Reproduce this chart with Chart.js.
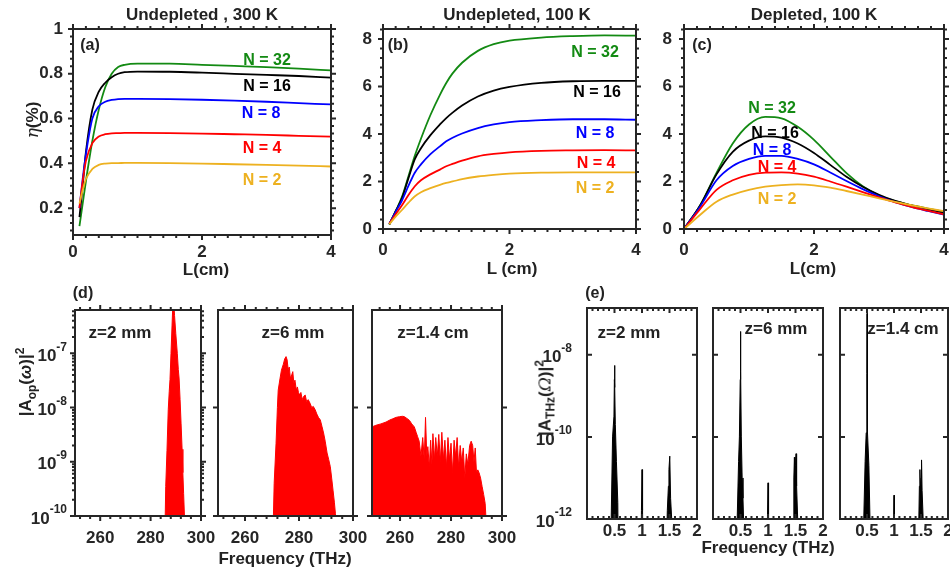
<!DOCTYPE html>
<html><head><meta charset="utf-8">
<script src="https://cdn.jsdelivr.net/npm/chart.js@4/dist/chart.umd.min.js"></script>
<style>
html,body{margin:0;padding:0;background:#fff;width:950px;height:572px;overflow:hidden;position:relative;}
canvas{position:absolute;left:0;top:0;}
.t{position:absolute;transform:translate(-50%,-50%);white-space:nowrap;font-family:"Liberation Sans",Arial,sans-serif;font-weight:bold;color:#222;line-height:1;font-size:17px;}
.r{transform:translate(-50%,-50%) rotate(-90deg);}
.n{font-size:16px;}
.h{font-size:17px;}
sub,sup{font-size:12px;}
</style></head><body>
<script>
// ---------- data ----------
const LA = [0.1,0.15,0.2,0.3,0.4,0.5,0.6,0.7,0.8,1.0,1.5,2.0,2.5,3.0,3.5,4.0];
const a32 = [0.12,0.22,0.32,0.50,0.64,0.74,0.80,0.83,0.84,0.845,0.845,0.84,0.835,0.83,0.823,0.815];
const a16 = [0.16,0.30,0.45,0.64,0.72,0.76,0.785,0.80,0.807,0.81,0.809,0.805,0.80,0.795,0.79,0.783];
const a8  = [0.20,0.33,0.44,0.60,0.655,0.675,0.683,0.687,0.688,0.688,0.687,0.684,0.68,0.675,0.669,0.663];
const a4  = [0.20,0.32,0.41,0.49,0.52,0.53,0.534,0.535,0.536,0.536,0.535,0.533,0.53,0.527,0.523,0.519];
const a2  = [0.22,0.28,0.33,0.375,0.393,0.399,0.401,0.401,0.402,0.402,0.401,0.399,0.396,0.393,0.39,0.386];

const LB = [0.1,0.2,0.3,0.4,0.5,0.6,0.75,0.9,1.0,1.1,1.25,1.5,1.75,2.0,2.5,3.0,3.5,4.0];
const b32 = [0.18,0.75,1.35,2.2,3.06,3.8,4.8,5.65,6.15,6.55,7.0,7.5,7.78,7.93,8.06,8.12,8.15,8.14];
const b16 = [0.2,0.75,1.3,2.12,2.92,3.4,3.95,4.4,4.67,4.9,5.2,5.58,5.83,5.98,6.15,6.22,6.24,6.24];
const b8  = [0.22,0.72,1.2,1.8,2.36,2.72,3.15,3.48,3.69,3.84,4.02,4.25,4.4,4.5,4.58,4.62,4.62,4.6];
const b4  = [0.22,0.62,1.0,1.42,1.79,2.05,2.3,2.5,2.64,2.74,2.88,3.06,3.16,3.23,3.29,3.31,3.32,3.31];
const b2  = [0.2,0.52,0.8,1.1,1.37,1.55,1.72,1.86,1.94,2.0,2.1,2.21,2.28,2.33,2.37,2.38,2.38,2.38];

const LC = [0,0.25,0.5,0.75,1.0,1.25,1.5,1.75,2.0,2.25,2.5,2.75,3.0,3.25,3.5,3.75,4.0];
const c32 = [0,1.0,2.36,3.6,4.4,4.72,4.66,4.3,3.75,3.05,2.35,1.8,1.42,1.17,1.0,0.86,0.72];
const c16 = [0,1.0,2.3,3.25,3.72,3.9,3.85,3.6,3.2,2.7,2.2,1.78,1.44,1.18,0.99,0.83,0.68];
const c8  = [0,0.95,2.05,2.65,2.95,3.08,3.08,2.95,2.72,2.38,2.02,1.68,1.38,1.13,0.93,0.76,0.6];
const c4  = [0,0.85,1.65,2.05,2.28,2.37,2.38,2.33,2.2,2.0,1.78,1.55,1.33,1.12,0.93,0.77,0.62];
const c2  = [0,0.6,1.15,1.45,1.65,1.78,1.85,1.88,1.84,1.74,1.6,1.45,1.29,1.14,1.0,0.87,0.75];

const nLabels = ['N = 32','N = 16','N = 8','N = 4','N = 2'];

const fD1 = [285.7,286.0,286.5,287.0,287.4,287.7,288.1,288.5,289.0,289.5,290.0,290.6,291.0,291.3,291.7,292.1,292.5,292.8,293.1,293.6];
const vD1 = [5.0e-11,3.5e-10,1.6e-9,9.1e-9,2.0e-8,3.3e-8,1.0e-7,3.2e-7,1.3e-6,5.0e-7,2.3e-7,1.0e-7,5.0e-8,3.5e-8,1.4e-8,5.0e-9,1.7e-9,6.3e-10,2.6e-10,6.3e-11];

const fD2 = [270.3,270.8,271.5,272.0,272.3,273.0,273.5,274.2,274.7,275.2,275.6,276.0,276.4,276.8,277.3,277.7,278.1,278.5,279.0,279.4,279.8,280.3,280.7,281.2,281.7,282.3,282.8,283.4,284.1,284.7,285.3,286.0,286.6,287.2,287.9,288.5,289.1,289.7,290.4,291.0,291.6,292.1,292.6,293.1,293.5,293.9];
const vD2 = [3.2e-11,4.0e-10,2.2e-9,1.0e-8,2.1e-8,3.5e-8,4.9e-8,6.3e-8,7.9e-8,8.7e-8,7.6e-8,5.0e-8,5.6e-8,3.5e-8,4.0e-8,4.6e-8,2.8e-8,3.2e-8,2.1e-8,2.4e-8,1.9e-8,1.7e-8,1.9e-8,1.4e-8,1.6e-8,1.7e-8,1.3e-8,1.4e-8,1.2e-8,1.0e-8,1.05e-8,9.1e-9,7.6e-9,6.6e-9,5.9e-9,4.5e-9,3.4e-9,2.4e-9,1.45e-9,1.1e-9,8.1e-10,5.0e-10,3.0e-10,1.8e-10,1.1e-10,4.0e-11];

const fD3 = [249.0,250.5,252.5,254.5,256.0,257.1,258.5,259.8,261.0,261.7,262.7,263.7,264.6,265.6,266.3,266.9,267.5,268.2,268.9,269.5,270.0,270.5,270.9,271.5,272.0,272.5,272.9,273.5,274.0,274.6,275.2,275.8,276.4,277.0,277.6,278.2,278.8,279.4,280.0,280.6,281.2,281.8,282.4,283.0,283.6,284.2,284.8,285.4,286.0,286.6,287.3,287.9,288.5,289.0,289.5,290.0,290.5,291.0,291.6,292.2,292.8,293.4,294.0];
const vD3 = [4.4e-9,4.7e-9,5.0e-9,5.4e-9,5.9e-9,6.2e-9,6.6e-9,6.8e-9,6.9e-9,6.8e-9,6.3e-9,5.8e-9,5.0e-9,4.4e-9,3.5e-9,2.9e-9,2.4e-9,1.26e-9,2.8e-9,1.1e-9,6.6e-9,1.26e-9,1.9e-9,7.9e-10,2.5e-9,8.9e-10,3.3e-9,1.1e-9,2.8e-9,1.26e-9,3.2e-9,1.0e-9,3.5e-9,1.1e-9,2.5e-9,7.9e-10,2.8e-9,1.1e-9,2.2e-9,6.3e-10,2.5e-9,1.26e-9,2.8e-9,7.9e-10,2.0e-9,1.0e-9,1.8e-9,5.0e-10,1.4e-9,8.9e-10,2.0e-9,2.4e-9,2.0e-9,1.0e-9,1.8e-9,6.2e-10,7.1e-10,6.3e-10,5.0e-10,3.5e-10,2.5e-10,1.7e-10,5.0e-11];

const fE1 = [0.43,0.44,0.465,0.49,0.498,0.502,0.506,0.515,0.535,0.56,0.57,0.98,0.99,1.0,1.01,1.02,1.44,1.46,1.48,1.49,1.505,1.52,1.54,1.55];
const vE1 = [1e-13,1e-12,1e-10,3.2e-10,2.5e-9,5.5e-9,1.6e-9,2.0e-10,2.5e-11,2.5e-12,1e-13,1e-13,1.6e-12,1.6e-11,1.6e-12,1e-13,1e-13,1.6e-12,6.3e-12,1.6e-11,3.4e-11,3.2e-12,1e-12,1e-13];
const fE2 = [0.43,0.44,0.465,0.48,0.495,0.50,0.505,0.515,0.53,0.545,0.56,0.57,0.98,0.99,1.0,1.01,1.02,1.44,1.46,1.47,1.48,1.49,1.50,1.51,1.52,1.54,1.55];
const vE2 = [1e-13,1e-12,2.5e-11,1e-10,2.5e-9,3.7e-8,4.0e-9,1e-10,1e-11,3.2e-12,6.3e-13,1e-13,1e-13,1e-12,7.6e-12,1e-12,1e-13,1e-13,1e-12,1e-11,3.2e-11,1e-11,2.0e-11,3.9e-11,6.3e-12,1e-12,1e-13];
const fE3 = [0.43,0.44,0.465,0.485,0.497,0.50,0.503,0.515,0.535,0.555,0.565,0.99,0.995,1.0,1.005,1.01,1.44,1.46,1.47,1.48,1.49,1.50,1.51,1.52,1.54,1.55];
const vE3 = [1e-13,1e-12,2.5e-11,1.26e-10,3.5e-9,1.02e-7,3.5e-9,1.26e-10,2.0e-11,1e-12,1e-13,1e-13,1e-12,3.8e-12,1e-12,1e-13,1e-13,1e-12,6.3e-12,1.6e-11,5.0e-12,1e-11,2.75e-11,5.0e-12,1e-12,1e-13];

const topTicksY = [0.2,0.4,0.6,0.8,1];
const bcTicksY = [0,2,4,6,8];
const lTicks = [0,2,4];
const dTicksX = [260,280,300];
const eTicksX = [0.5,1,1.5,2];

// ---------- helpers ----------
const INK = '#262626';
const FAM = '"Liberation Sans", Arial, sans-serif';
const FONT = {family:FAM, size:17, weight:'bold'};
const YW = 60, XH = 30, MAJ = 5, MIN = 3;
const GREEN='#138a13', BLACK='#000000', BLUE='#0000ff', RED='#ff0000', ORANGE='#edb120';
function steps(a,b,s){const r=[];for(let k=0;a+k*s<=b+1e-9;k++) r.push(a+k*s);return r;}
function logMinors(min,max){const r=[];for(let d=Math.floor(Math.log10(min));d<=Math.ceil(Math.log10(max));d++){for(let m=2;m<=9;m++){const v=m*Math.pow(10,d);if(v>=min&&v<=max)r.push(v);}}return r;}
const pts = (xs,ys) => xs.map((x,i)=>({x:x,y:ys[i]}));
const curve = (xs,ys,c) => ({data:pts(xs,ys),borderColor:c,borderWidth:1.8,pointRadius:0,fill:false,cubicInterpolationMode:'monotone'});
const spec = (xs,ys,c) => ({data:pts(xs,ys),borderColor:c,backgroundColor:c,borderWidth:1,pointRadius:0,fill:'start',tension:0});

function makePanel(cfg){
  const cv=document.createElement('canvas'); cv.width=950; cv.height=572; document.body.appendChild(cv);
  const a=cfg.area;
  const dir = cfg.inward ? -1 : 1;
  const frame={id:'frame',afterDatasetsDraw(chart){
    const ctx=chart.ctx, ca=chart.chartArea, xs=chart.scales.x, ys=chart.scales.y;
    ctx.save(); ctx.strokeStyle=INK; ctx.lineWidth=2; ctx.beginPath();
    const tx=(v,len)=>{const p=xs.getPixelForValue(v); len*=dir; ctx.moveTo(p,ca.bottom); ctx.lineTo(p,ca.bottom+len); ctx.moveTo(p,ca.top); ctx.lineTo(p,ca.top-len);};
    const ty=(v,len)=>{const p=ys.getPixelForValue(v); len*=dir; ctx.moveTo(ca.left,p); ctx.lineTo(ca.left-len,p); ctx.moveTo(ca.right,p); ctx.lineTo(ca.right+len,p);};
    (cfg.x.minor||[]).forEach(v=>tx(v,MIN)); cfg.x.ticks.forEach(v=>tx(v,MAJ));
    (cfg.y.minor||[]).forEach(v=>ty(v,MIN)); cfg.y.ticks.forEach(v=>ty(v,MAJ));
    ctx.stroke();
    ctx.strokeRect(ca.left,ca.top,ca.right-ca.left,ca.bottom-ca.top);
    // power-of-ten tick labels (base + raised exponent), placed by the y scale
    if(cfg.y.powLabels){
      ys.ticks.forEach(t=>{
        const p=ys.getPixelForValue(t.value);
        const ex=String(Math.round(Math.log10(t.value)));
        const xr=ca.left-cfg.y.pad;
        ctx.fillStyle=INK; ctx.textBaseline='middle';
        ctx.font='bold 12px '+FAM; ctx.textAlign='right';
        const ew=ctx.measureText(ex).width;
        ctx.fillText(ex,xr,p-6);
        ctx.font='bold 17px '+FAM;
        ctx.fillText('10',xr-ew,p+3);
      });
    }
    ctx.restore();
  }};
  new Chart(cv,{
    type:'line',
    data:{datasets:cfg.datasets},
    options:{
      responsive:false, animation:false, devicePixelRatio:1, events:[],
      layout:{padding:{left:a.l-YW, top:a.t, right:950-a.r, bottom:572-a.b-XH}},
      plugins:{legend:{display:false},tooltip:{enabled:false}},
      scales:{
        x:{type:'linear',min:cfg.x.min,max:cfg.x.max,
           afterBuildTicks:s=>{s.ticks=cfg.x.ticks.map(v=>({value:v}));},
           afterFit:s=>{s.height=XH;s.paddingLeft=0;s.paddingRight=0;},
           ticks:{font:FONT,color:INK,padding:cfg.x.pad,maxRotation:0,autoSkip:false,callback:v=>String(v)},
           grid:{display:false,drawTicks:false},border:{display:false}},
        y:{type:cfg.y.type||'linear',min:cfg.y.min,max:cfg.y.max,
           afterBuildTicks:s=>{s.ticks=cfg.y.ticks.map(v=>({value:v}));},
           afterFit:s=>{s.width=YW;s.paddingTop=0;s.paddingBottom=0;},
           ticks:{display:cfg.y.labels!==false && !cfg.y.powLabels,font:FONT,color:INK,padding:cfg.y.pad||10,autoSkip:false,callback:v=>String(v)},
           grid:{display:false,drawTicks:false},border:{display:false}}
      }
    },
    plugins:[frame]
  });
}

// ---------- top row ----------
makePanel({area:{l:73,t:29,r:331,b:235},
  x:{min:0,max:4,ticks:lTicks,minor:steps(0,4,0.2),pad:7},
  y:{min:0.08,max:1,ticks:topTicksY,minor:steps(0.1,1,0.2/6),pad:10},
  datasets:[curve(LA,a2,ORANGE),curve(LA,a4,RED),curve(LA,a8,BLUE),curve(LA,a16,BLACK),curve(LA,a32,GREEN)]});
makePanel({area:{l:383,t:29,r:636,b:229},
  x:{min:0,max:4,ticks:lTicks,minor:steps(0,4,0.2),pad:11},
  y:{min:0,max:8.42,ticks:bcTicksY,minor:steps(0,8.4,0.4),pad:11},
  datasets:[curve(LB,b2,ORANGE),curve(LB,b4,RED),curve(LB,b8,BLUE),curve(LB,b16,BLACK),curve(LB,b32,GREEN)]});
makePanel({area:{l:684,t:29,r:944,b:229},
  x:{min:0,max:4,ticks:lTicks,minor:steps(0,4,0.2),pad:11},
  y:{min:0,max:8.42,ticks:bcTicksY,minor:steps(0,8.4,0.4),pad:12},
  datasets:[curve(LC,c2,ORANGE),curve(LC,c4,RED),curve(LC,c8,BLUE),curve(LC,c16,BLACK),curve(LC,c32,GREEN)]});

// ---------- (d) ----------
const dY = {type:'logarithmic',min:1e-10,max:6.3e-7};
makePanel({area:{l:75,t:310,r:201,b:516},
  x:{min:250,max:300,ticks:dTicksX,minor:steps(252,300,4),pad:12},
  y:Object.assign({},dY,{ticks:[1e-10,1e-9,1e-8,1e-7],minor:logMinors(1e-10,6.3e-7),pad:8,powLabels:true}),
  datasets:[spec(fD1,vD1,RED)]});
makePanel({area:{l:218,t:310,r:353,b:516},
  x:{min:250,max:300,ticks:dTicksX,minor:steps(252,300,4),pad:12},
  y:Object.assign({},dY,{ticks:[1e-10,1e-8],labels:false}),
  datasets:[spec(fD2,vD2,RED)]});
makePanel({area:{l:372,t:310,r:502,b:516},
  x:{min:249,max:300,ticks:dTicksX,minor:steps(252,300,4),pad:12},
  y:Object.assign({},dY,{ticks:[1e-10,1e-8],labels:false}),
  datasets:[spec(fD3,vD3,RED)]});

// ---------- (e) ----------
const eY = {type:'logarithmic',min:1e-12,max:1.38e-7};
makePanel({area:{l:587,t:308,r:697,b:519},inward:true,
  x:{min:0,max:2,ticks:eTicksX,minor:steps(0,2,0.1),pad:2},
  y:Object.assign({},eY,{ticks:[1e-12,1e-10,1e-8],pad:15,powLabels:true}),
  datasets:[spec(fE1,vE1,BLACK)]});
makePanel({area:{l:713,t:308,r:823,b:519},inward:true,
  x:{min:0,max:2,ticks:eTicksX,minor:steps(0,2,0.1),pad:2},
  y:Object.assign({},eY,{ticks:[1e-12,1e-10,1e-8],labels:false}),
  datasets:[spec(fE2,vE2,BLACK)]});
makePanel({area:{l:840,t:308,r:948,b:519},inward:true,
  x:{min:0,max:2,ticks:eTicksX,minor:steps(0,2,0.1),pad:2},
  y:Object.assign({},eY,{ticks:[1e-12,1e-10,1e-8],labels:false}),
  datasets:[spec(fE3,vE3,BLACK)]});

// ---------- text ----------
function txt(html,x,y,cls,color){const d=document.createElement('div');d.className='t '+(cls||'');d.style.left=x+'px';d.style.top=y+'px';if(color)d.style.color=color;d.innerHTML=html;document.body.appendChild(d);}
txt('Undepleted , 300 K',202,14,'h');
txt('Undepleted, 100 K',517,14,'h');
txt('Depleted, 100 K',814,14,'h');
txt('(a)',90,45,'n'); txt('(b)',398,45,'n'); txt('(c)',702,45,'n');
txt('(d)',83,293,'n'); txt('(e)',595,293,'n');
const nCol=[GREEN,BLACK,BLUE,RED,ORANGE];
[[267,60],[267,86],[261,113],[262,148],[262,180]].forEach((p,i)=>txt(nLabels[i],p[0],p[1],'n',nCol[i]));
[[595,52],[597,92],[595,133],[596,163],[595,188]].forEach((p,i)=>txt(nLabels[i],p[0],p[1],'n',nCol[i]));
[[772,108],[775,133],[772,150],[777,167],[777,199]].forEach((p,i)=>txt(nLabels[i],p[0],p[1],'n',nCol[i]));
txt('L(cm)',206,269); txt('L (cm)',512,268); txt('L(cm)',813,268);
txt('<i style="font-family:\'DejaVu Serif\',serif;font-weight:normal">\u03b7</i>(%)',32,120,'r');
txt('z=2 mm',120,332); txt('z=6 mm',293,332); txt('z=1.4 cm',433,332);
txt('z=2 mm',629,332); txt('z=6 mm',776,328); txt('z=1.4 cm',903,328);
txt('Frequency (THz)',285,558); txt('Frequency (THz)',768,547);
txt('|A<sub>op</sub>(<i>\u03c9</i>)|<sup>2</sup>',26,382,'r');
txt('|A<sub>THz</sub>(<i style="font-family:\'DejaVu Serif\',serif;font-weight:normal">\u03a9</i>)|<sup>2</sup>',545,398,'r');
</script>
</body></html>
